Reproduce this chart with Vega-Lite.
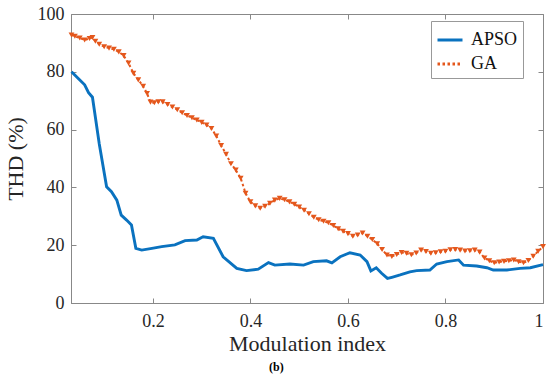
{
  "$schema": "https://vega.github.io/schema/vega-lite/v6.json",
  "width": 472,
  "height": 289,
  "autosize": {"type": "none"},
  "padding": {"left": 71, "top": 14, "right": 7, "bottom": 79},
  "background": "white",
  "title": {"text": "(b)", "orient": "bottom", "anchor": "middle", "frame": "bounds", "font": "Liberation Serif", "fontSize": 12, "fontWeight": "bold", "color": "#000", "offset": 8},
  "datasets": {
    "apso": [
      {"m": 0.033, "thd": 80, "series": "APSO"},
      {"m": 0.048, "thd": 77.5, "series": "APSO"},
      {"m": 0.06, "thd": 75.5, "series": "APSO"},
      {"m": 0.068, "thd": 72.8, "series": "APSO"},
      {"m": 0.076, "thd": 71.2, "series": "APSO"},
      {"m": 0.09, "thd": 55, "series": "APSO"},
      {"m": 0.105, "thd": 40.2, "series": "APSO"},
      {"m": 0.115, "thd": 38.5, "series": "APSO"},
      {"m": 0.126, "thd": 35.6, "series": "APSO"},
      {"m": 0.135, "thd": 30.4, "series": "APSO"},
      {"m": 0.146, "thd": 28.7, "series": "APSO"},
      {"m": 0.156, "thd": 27, "series": "APSO"},
      {"m": 0.165, "thd": 18.9, "series": "APSO"},
      {"m": 0.177, "thd": 18.3, "series": "APSO"},
      {"m": 0.198, "thd": 18.9, "series": "APSO"},
      {"m": 0.218, "thd": 19.5, "series": "APSO"},
      {"m": 0.245, "thd": 20.1, "series": "APSO"},
      {"m": 0.266, "thd": 21.6, "series": "APSO"},
      {"m": 0.29, "thd": 21.8, "series": "APSO"},
      {"m": 0.303, "thd": 22.9, "series": "APSO"},
      {"m": 0.324, "thd": 22.4, "series": "APSO"},
      {"m": 0.344, "thd": 16, "series": "APSO"},
      {"m": 0.372, "thd": 12, "series": "APSO"},
      {"m": 0.392, "thd": 11.2, "series": "APSO"},
      {"m": 0.416, "thd": 11.7, "series": "APSO"},
      {"m": 0.437, "thd": 14, "series": "APSO"},
      {"m": 0.45, "thd": 13.1, "series": "APSO"},
      {"m": 0.481, "thd": 13.5, "series": "APSO"},
      {"m": 0.509, "thd": 13.1, "series": "APSO"},
      {"m": 0.529, "thd": 14.3, "series": "APSO"},
      {"m": 0.556, "thd": 14.6, "series": "APSO"},
      {"m": 0.567, "thd": 13.9, "series": "APSO"},
      {"m": 0.584, "thd": 16, "series": "APSO"},
      {"m": 0.604, "thd": 17.4, "series": "APSO"},
      {"m": 0.625, "thd": 16.6, "series": "APSO"},
      {"m": 0.639, "thd": 14.3, "series": "APSO"},
      {"m": 0.647, "thd": 11.1, "series": "APSO"},
      {"m": 0.658, "thd": 12.2, "series": "APSO"},
      {"m": 0.669, "thd": 10.3, "series": "APSO"},
      {"m": 0.681, "thd": 8.5, "series": "APSO"},
      {"m": 0.69, "thd": 8.9, "series": "APSO"},
      {"m": 0.707, "thd": 9.7, "series": "APSO"},
      {"m": 0.727, "thd": 10.8, "series": "APSO"},
      {"m": 0.741, "thd": 11.2, "series": "APSO"},
      {"m": 0.768, "thd": 11.4, "series": "APSO"},
      {"m": 0.782, "thd": 13.5, "series": "APSO"},
      {"m": 0.803, "thd": 14.3, "series": "APSO"},
      {"m": 0.827, "thd": 14.9, "series": "APSO"},
      {"m": 0.837, "thd": 13.1, "series": "APSO"},
      {"m": 0.864, "thd": 12.8, "series": "APSO"},
      {"m": 0.885, "thd": 12.2, "series": "APSO"},
      {"m": 0.898, "thd": 11.4, "series": "APSO"},
      {"m": 0.926, "thd": 11.4, "series": "APSO"},
      {"m": 0.953, "thd": 12, "series": "APSO"},
      {"m": 0.974, "thd": 12.2, "series": "APSO"},
      {"m": 1.0, "thd": 13.3, "series": "APSO"}
    ],
    "ga": [
      {"m": 0.033, "thd": 92.7, "series": "GA"},
      {"m": 0.04, "thd": 92.3, "series": "GA"},
      {"m": 0.05, "thd": 91.7, "series": "GA"},
      {"m": 0.06, "thd": 91.0, "series": "GA"},
      {"m": 0.07, "thd": 91.5, "series": "GA"},
      {"m": 0.076, "thd": 91.9, "series": "GA"},
      {"m": 0.082, "thd": 90.6, "series": "GA"},
      {"m": 0.09, "thd": 89.5, "series": "GA"},
      {"m": 0.1, "thd": 88.7, "series": "GA"},
      {"m": 0.11, "thd": 88.2, "series": "GA"},
      {"m": 0.12, "thd": 87.8, "series": "GA"},
      {"m": 0.13, "thd": 86.9, "series": "GA"},
      {"m": 0.14, "thd": 85.6, "series": "GA"},
      {"m": 0.15, "thd": 83, "series": "GA"},
      {"m": 0.16, "thd": 79.5, "series": "GA"},
      {"m": 0.17, "thd": 77.2, "series": "GA"},
      {"m": 0.18, "thd": 75, "series": "GA"},
      {"m": 0.188, "thd": 72.5, "series": "GA"},
      {"m": 0.195, "thd": 69.5, "series": "GA"},
      {"m": 0.203, "thd": 69.3, "series": "GA"},
      {"m": 0.211, "thd": 69.6, "series": "GA"},
      {"m": 0.22, "thd": 69.6, "series": "GA"},
      {"m": 0.23, "thd": 68.7, "series": "GA"},
      {"m": 0.24, "thd": 67.8, "series": "GA"},
      {"m": 0.25, "thd": 66.9, "series": "GA"},
      {"m": 0.26, "thd": 65.8, "series": "GA"},
      {"m": 0.27, "thd": 64.9, "series": "GA"},
      {"m": 0.28, "thd": 64.1, "series": "GA"},
      {"m": 0.29, "thd": 63.3, "series": "GA"},
      {"m": 0.3, "thd": 62.5, "series": "GA"},
      {"m": 0.31, "thd": 61.6, "series": "GA"},
      {"m": 0.32, "thd": 60.4, "series": "GA"},
      {"m": 0.33, "thd": 57.8, "series": "GA"},
      {"m": 0.34, "thd": 54.5, "series": "GA"},
      {"m": 0.35, "thd": 51.5, "series": "GA"},
      {"m": 0.36, "thd": 48.2, "series": "GA"},
      {"m": 0.37, "thd": 46, "series": "GA"},
      {"m": 0.38, "thd": 43.2, "series": "GA"},
      {"m": 0.39, "thd": 38, "series": "GA"},
      {"m": 0.4, "thd": 35, "series": "GA"},
      {"m": 0.41, "thd": 33.6, "series": "GA"},
      {"m": 0.42, "thd": 32.8, "series": "GA"},
      {"m": 0.43, "thd": 33.5, "series": "GA"},
      {"m": 0.44, "thd": 34.5, "series": "GA"},
      {"m": 0.45, "thd": 35.6, "series": "GA"},
      {"m": 0.46, "thd": 36.2, "series": "GA"},
      {"m": 0.47, "thd": 35.7, "series": "GA"},
      {"m": 0.48, "thd": 35.0, "series": "GA"},
      {"m": 0.49, "thd": 34.2, "series": "GA"},
      {"m": 0.5, "thd": 33.2, "series": "GA"},
      {"m": 0.51, "thd": 32.1, "series": "GA"},
      {"m": 0.52, "thd": 30.9, "series": "GA"},
      {"m": 0.53, "thd": 29.7, "series": "GA"},
      {"m": 0.54, "thd": 28.8, "series": "GA"},
      {"m": 0.55, "thd": 28.3, "series": "GA"},
      {"m": 0.56, "thd": 27.8, "series": "GA"},
      {"m": 0.57, "thd": 26.8, "series": "GA"},
      {"m": 0.58, "thd": 25.7, "series": "GA"},
      {"m": 0.59, "thd": 24.8, "series": "GA"},
      {"m": 0.6, "thd": 24, "series": "GA"},
      {"m": 0.61, "thd": 23.1, "series": "GA"},
      {"m": 0.62, "thd": 23.5, "series": "GA"},
      {"m": 0.63, "thd": 24.2, "series": "GA"},
      {"m": 0.64, "thd": 23.1, "series": "GA"},
      {"m": 0.65, "thd": 22, "series": "GA"},
      {"m": 0.66, "thd": 20.5, "series": "GA"},
      {"m": 0.67, "thd": 18.5, "series": "GA"},
      {"m": 0.68, "thd": 16.6, "series": "GA"},
      {"m": 0.69, "thd": 16.1, "series": "GA"},
      {"m": 0.7, "thd": 16.8, "series": "GA"},
      {"m": 0.71, "thd": 17.5, "series": "GA"},
      {"m": 0.72, "thd": 17.2, "series": "GA"},
      {"m": 0.73, "thd": 16.7, "series": "GA"},
      {"m": 0.74, "thd": 17.3, "series": "GA"},
      {"m": 0.75, "thd": 18.3, "series": "GA"},
      {"m": 0.76, "thd": 17.8, "series": "GA"},
      {"m": 0.77, "thd": 17.2, "series": "GA"},
      {"m": 0.78, "thd": 17.4, "series": "GA"},
      {"m": 0.79, "thd": 17.7, "series": "GA"},
      {"m": 0.8, "thd": 17.9, "series": "GA"},
      {"m": 0.81, "thd": 18.4, "series": "GA"},
      {"m": 0.82, "thd": 18.5, "series": "GA"},
      {"m": 0.83, "thd": 18.3, "series": "GA"},
      {"m": 0.84, "thd": 18.0, "series": "GA"},
      {"m": 0.85, "thd": 18.1, "series": "GA"},
      {"m": 0.86, "thd": 18.3, "series": "GA"},
      {"m": 0.87, "thd": 17.6, "series": "GA"},
      {"m": 0.88, "thd": 15.6, "series": "GA"},
      {"m": 0.89, "thd": 14.6, "series": "GA"},
      {"m": 0.9, "thd": 13.9, "series": "GA"},
      {"m": 0.91, "thd": 14.2, "series": "GA"},
      {"m": 0.92, "thd": 14.4, "series": "GA"},
      {"m": 0.93, "thd": 14.6, "series": "GA"},
      {"m": 0.94, "thd": 14.9, "series": "GA"},
      {"m": 0.95, "thd": 14.3, "series": "GA"},
      {"m": 0.96, "thd": 13.9, "series": "GA"},
      {"m": 0.97, "thd": 14.7, "series": "GA"},
      {"m": 0.98, "thd": 16.2, "series": "GA"},
      {"m": 0.99, "thd": 17.9, "series": "GA"},
      {"m": 1.0, "thd": 19.5, "series": "GA"}
    ]
  },
  "layer": [
    {
      "data": {"name": "apso"},
      "mark": {"type": "line", "strokeWidth": 2.9, "color": "#0A72BF"},
      "encoding": {
        "x": {"field": "m", "type": "quantitative", "scale": {"domain": [0.032, 1], "nice": false, "zero": false},
          "axis": {"orient": "bottom", "title": "Modulation index", "values": [0.2, 0.4, 0.6, 0.8, 1], "format": "~g", "tickSize": -5, "labelPadding": 14, "titlePadding": 3, "grid": false,
            "labelFont": "Liberation Serif", "titleFont": "Liberation Serif", "labelFontSize": 18, "titleFontSize": 22}},
        "y": {"field": "thd", "type": "quantitative", "scale": {"domain": [0, 100], "nice": false},
          "axis": {"orient": "left", "title": "THD (%)", "values": [0, 20, 40, 60, 80, 100], "tickSize": -5, "labelPadding": 12, "titlePadding": 10, "grid": false,
            "labelFont": "Liberation Serif", "titleFont": "Liberation Serif", "labelFontSize": 18, "titleFontSize": 22}}
      }
    },
    {
      "data": {"name": "ga"},
      "mark": {"type": "line", "strokeWidth": 2, "strokeDash": [2.5, 2.5], "color": "#E4571C"},
      "encoding": {
        "x": {"field": "m", "type": "quantitative", "axis": null},
        "y": {"field": "thd", "type": "quantitative", "axis": null}
      }
    },
    {
      "data": {"name": "ga"},
      "mark": {"type": "point", "shape": "triangle-down", "filled": true, "size": 34, "opacity": 1, "color": "#E4571C"},
      "encoding": {
        "x": {"field": "m", "type": "quantitative",
          "axis": {"orient": "top", "title": null, "labels": false, "values": [0.2, 0.4, 0.6, 0.8, 1], "tickSize": -5, "domain": false, "grid": false}},
        "y": {"field": "thd", "type": "quantitative",
          "axis": {"orient": "right", "title": null, "labels": false, "values": [0, 20, 40, 60, 80, 100], "tickSize": -5, "domain": false, "grid": false}}
      }
    },
    {
      "data": {"values": [{"series": "APSO"}, {"series": "GA"}]},
      "mark": {"type": "line"},
      "encoding": {
        "color": {"field": "series", "type": "nominal", "scale": {"domain": ["APSO", "GA"], "range": ["#0A72BF", "#E4571C"]},
          "legend": {"title": null, "orient": "none", "legendX": 360, "legendY": 7, "labelFont": "Liberation Serif", "labelExpr": "datum.label + '\u2003\u2002'"}},
        "strokeDash": {"field": "series", "type": "nominal", "scale": {"domain": ["APSO", "GA"], "range": [[1, 0], [2.5, 2.5]]},
          "legend": {"title": null, "orient": "none", "legendX": 360, "legendY": 7, "labelFont": "Liberation Serif", "labelExpr": "datum.label + '\u2003\u2002'"}}
      }
    }
  ],
  "resolve": {"axis": {"x": "independent", "y": "independent"}},
  "config": {
    "font": "Liberation Serif",
    "view": {"stroke": "#888888"},
    "axis": {"labelFont": "Liberation Serif", "labelFontSize": 18, "labelColor": "#262626", "titleFont": "Liberation Serif", "titleFontSize": 22, "titleFontWeight": "normal", "titleColor": "#262626", "domainColor": "#888888", "tickColor": "#888888", "domainWidth": 1, "tickWidth": 1},
    "legend": {"labelFont": "Liberation Serif", "labelFontSize": 18, "labelColor": "#111", "symbolType": "stroke", "symbolSize": 625, "symbolStrokeWidth": 3, "padding": 5, "rowPadding": 1, "labelOffset": 7, "strokeColor": "#999999", "fillColor": "white", "cornerRadius": 0}
  }
}
